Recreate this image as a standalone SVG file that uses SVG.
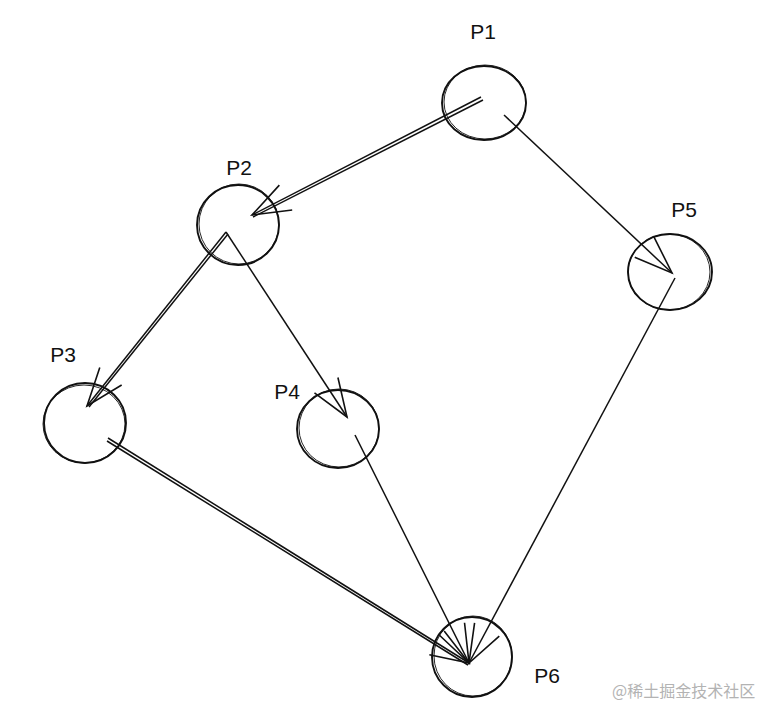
<svg xmlns="http://www.w3.org/2000/svg" width="778" height="722" viewBox="0 0 778 722">
<style>
.node{fill:none;stroke:#111;stroke-width:1.9}
.node2{fill:none;stroke:#111;stroke-width:0.9}
.lbl{font-family:"Liberation Sans","Noto Sans",sans-serif;font-size:21px;fill:#111;text-anchor:middle}
.edge{fill:none;stroke:#111;stroke-width:1.5}
.wm{font-family:"Noto Sans CJK SC","Liberation Sans",sans-serif;font-size:16px;fill:#b3b3b3}
</style>
<defs>
<marker id="ah" markerUnits="userSpaceOnUse" viewBox="-42 -16 46 32" refX="0" refY="0" markerWidth="46" markerHeight="32" orient="auto" overflow="visible">
<path d="M -38 -14 L 0 0 L -38 14" fill="none" stroke="#111" stroke-width="1.6"/>
</marker>
</defs>
<rect width="778" height="722" fill="#ffffff"/>
<g id="P1">
<ellipse class="node" cx="484" cy="103" rx="42" ry="37"/>
<ellipse class="node2" cx="485" cy="102" rx="41" ry="37"/>
<text class="lbl" x="483" y="39">P1</text>
</g>
<g id="P2">
<ellipse class="node" cx="238" cy="225" rx="41" ry="40"/>
<ellipse class="node2" cx="239" cy="224" rx="40" ry="40"/>
<text class="lbl" x="239" y="175">P2</text>
</g>
<g id="P3">
<ellipse class="node" cx="85" cy="423" rx="41" ry="40"/>
<ellipse class="node2" cx="84" cy="424" rx="41" ry="39"/>
<text class="lbl" x="63" y="362">P3</text>
</g>
<g id="P4">
<ellipse class="node" cx="338" cy="429" rx="41" ry="39"/>
<ellipse class="node2" cx="339" cy="428" rx="40" ry="39"/>
<text class="lbl" x="287" y="399">P4</text>
</g>
<g id="P5">
<ellipse class="node" cx="670" cy="272" rx="42" ry="38"/>
<ellipse class="node2" cx="669" cy="272" rx="41" ry="38"/>
<text class="lbl" x="684" y="217">P5</text>
</g>
<g id="P6">
<ellipse class="node" cx="472" cy="657" rx="40" ry="40"/>
<ellipse class="node2" cx="473" cy="656" rx="39" ry="40"/>
<text class="lbl" x="547" y="683">P6</text>
</g>
<g id="connectors">
<line class="edge" x1="481" y1="97" x2="252" y2="215" marker-end="url(#ah)"/>
<line class="edge" x1="483" y1="100" x2="253" y2="217"/>
<line class="edge" x1="504" y1="115" x2="672" y2="273" marker-end="url(#ah)"/>
<line class="edge" x1="226" y1="232" x2="87" y2="406" marker-end="url(#ah)"/>
<line class="edge" x1="228" y1="234" x2="89" y2="407"/>
<line class="edge" x1="226" y1="232" x2="347" y2="417" marker-end="url(#ah)"/>
<line class="edge" x1="108" y1="438" x2="469" y2="663" marker-end="url(#ah)"/>
<line class="edge" x1="107" y1="441" x2="468" y2="665"/>
<line class="edge" x1="355" y1="435" x2="469" y2="663" marker-end="url(#ah)"/>
<line class="edge" x1="675" y1="278" x2="469" y2="663" marker-end="url(#ah)"/>
</g>
<text class="wm" x="612" y="697">@稀土掘金技术社区</text>
</svg>
